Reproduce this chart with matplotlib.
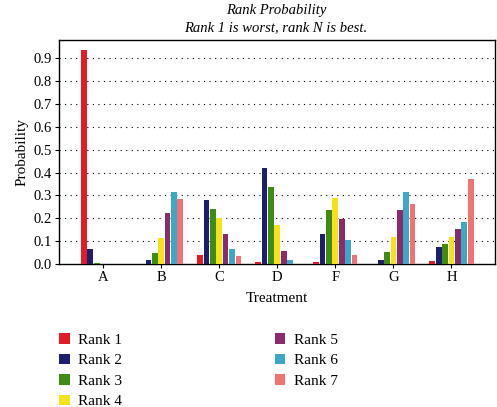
import matplotlib
matplotlib.use("Agg")
import matplotlib.pyplot as plt
import numpy as np

plt.rcParams['font.family'] = ['Liberation Serif', 'DejaVu Serif']

treatments = ["A", "B", "C", "D", "F", "G", "H"]
rank_labels = ["Rank 1", "Rank 2", "Rank 3", "Rank 4", "Rank 5", "Rank 6", "Rank 7"]
colors = ["#e31c23", "#1b1f6e", "#3f8c14", "#f5e11c", "#8c2a6c", "#3ba8c6", "#f07272"]

rank1 = [0.935, 0.000, 0.039, 0.010, 0.007, 0.000, 0.014]
rank2 = [0.066, 0.018, 0.282, 0.418, 0.130, 0.016, 0.076]
rank3 = [0.004, 0.048, 0.241, 0.335, 0.237, 0.054, 0.088]
rank4 = [0.000, 0.114, 0.203, 0.169, 0.288, 0.120, 0.117]
rank5 = [0.000, 0.224, 0.132, 0.058, 0.199, 0.237, 0.155]
rank6 = [0.000, 0.316, 0.067, 0.016, 0.107, 0.317, 0.184]
rank7 = [0.000, 0.285, 0.036, 0.002, 0.041, 0.264, 0.371]
series = [rank1, rank2, rank3, rank4, rank5, rank6, rank7]

fig = plt.figure(figsize=(4.97, 4.07), dpi=100)
ax = fig.add_axes([0.1187, 0.3514, 0.996 - 0.1187, 0.9017 - 0.3514])

x = np.arange(len(treatments))
bw = 0.11
for i, (vals, c, lab) in enumerate(zip(series, colors, rank_labels)):
    ax.bar(x + (i - 3) * bw, vals, width=bw * 0.9, color=c, label=lab, zorder=3)

ax.set_xlim(-0.76, 6.75)
ax.set_ylim(0, 0.98)
ax.set_yticks(np.arange(0, 1.0, 0.1))
ax.set_yticklabels([f"{v:.1f}" for v in np.arange(0, 1.0, 0.1)], fontsize=10.5)
ax.set_xticks(x)
ax.set_xticklabels(treatments, fontsize=10.5)
for yv in np.arange(0.1, 0.95, 0.1):
    ax.axhline(yv, color="black", linestyle=(0, (1, 4)), linewidth=0.8, zorder=1)
for s in ax.spines.values():
    s.set_color("black")
    s.set_linewidth(1.0)
ax.tick_params(axis="both", direction="out", length=3, width=0.8, pad=2)

ax.set_xlabel("Treatment", fontsize=11, labelpad=6)
ax.set_ylabel("Probability", fontsize=11, labelpad=4)
fig.text(0.555, 0.975, "Rank Probability", ha="center", va="center", fontsize=10.5, style="italic")
fig.text(0.555, 0.932, "Rank 1 is worst, rank N is best.", ha="center", va="center", fontsize=10.5, style="italic")

handles, labels = ax.get_legend_handles_labels()
leg = fig.legend(handles, labels, loc="upper left", bbox_to_anchor=(0.097, 0.208),
                 ncol=2, frameon=False, fontsize=11, handlelength=0.7, handleheight=0.7,
                 columnspacing=10.0, labelspacing=0.45, handletextpad=0.55,
                 borderaxespad=0.3, bbox_transform=fig.transFigure)

fig.savefig("out.png", dpi=100)
